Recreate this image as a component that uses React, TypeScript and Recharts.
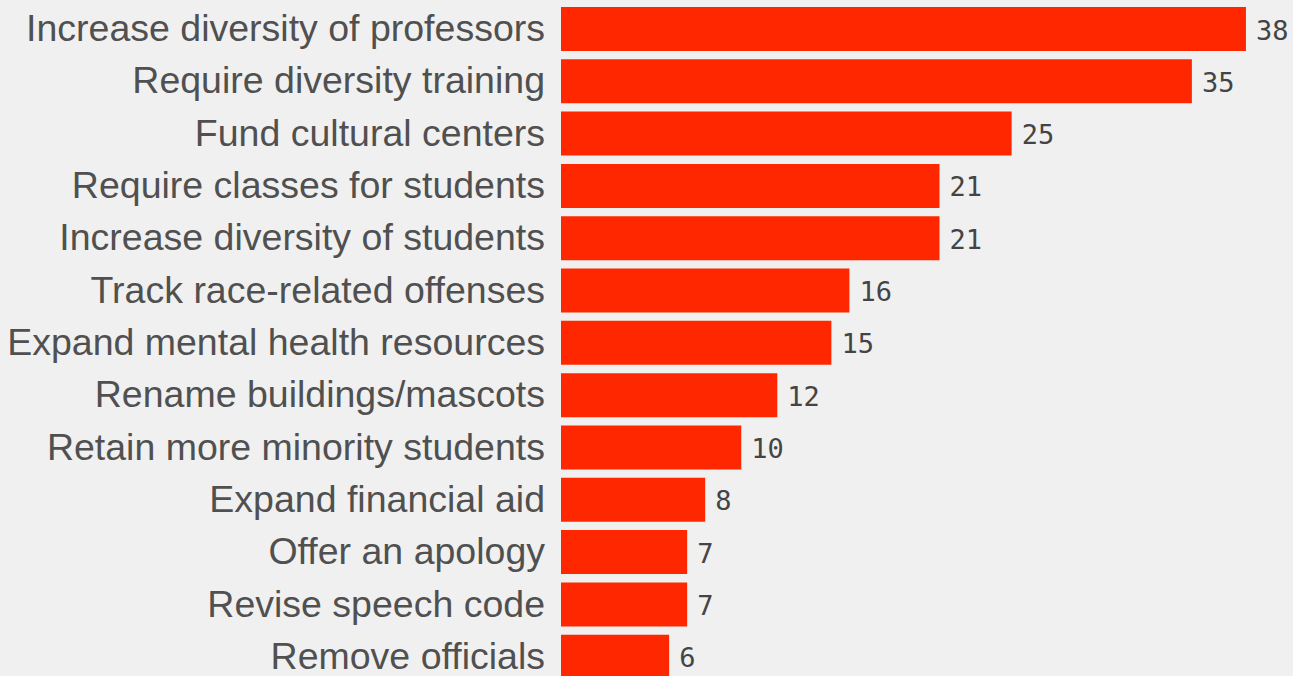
import React from 'react';
import { BarChart, Bar, XAxis, YAxis, LabelList } from 'recharts';

const categories = [
  'Increase diversity of professors',
  'Require diversity training',
  'Fund cultural centers',
  'Require classes for students',
  'Increase diversity of students',
  'Track race-related offenses',
  'Expand mental health resources',
  'Rename buildings/mascots',
  'Retain more minority students',
  'Expand financial aid',
  'Offer an apology',
  'Revise speech code',
  'Remove officials',
];
const values = [38, 35, 25, 21, 21, 16, 15, 12, 10, 8, 7, 7, 6];

const data = categories.map((name, i) => ({ name, value: values[i] }));

const CategoryTick = (props: any) => {
  const { x, y, payload } = props;
  return (
    <text
      x={x}
      y={y + 12}
      textAnchor="end"
      fill="#505050"
      fontFamily="'Liberation Sans', Arial, sans-serif"
      fontSize={37.5}
    >
      {payload.value}
    </text>
  );
};

const ValueLabel = (props: any) => {
  const { x, y, width, height, value } = props;
  return (
    <text
      x={Number(x) + Number(width) + 10}
      y={Number(y) + Number(height) / 2 + 10.5}
      textAnchor="start"
      fill="#444444"
      fontFamily="'DejaVu Sans Mono', monospace"
      fontSize={27}
    >
      {value}
    </text>
  );
};

export default function App() {
  return (
    <div
      style={{
        position: 'absolute',
        left: 0,
        top: 0,
        width: 1293,
        height: 676,
        overflow: 'hidden',
        background: '#f0f0f0',
      }}
    >
      <BarChart
        width={1293}
        height={690}
        data={data}
        layout="vertical"
        margin={{ top: 3, right: 11, bottom: 7, left: 0 }}
      >
        <XAxis type="number" domain={[0, 40]} hide />
        <YAxis
          type="category"
          dataKey="name"
          width={561}
          axisLine={false}
          tickLine={false}
          tickSize={0}
          tickMargin={16}
          tick={<CategoryTick />}
          interval={0}
        />
        <Bar dataKey="value" fill="#ff2700" barSize={44} isAnimationActive={false}>
          <LabelList dataKey="value" content={<ValueLabel />} />
        </Bar>
      </BarChart>
    </div>
  );
}
